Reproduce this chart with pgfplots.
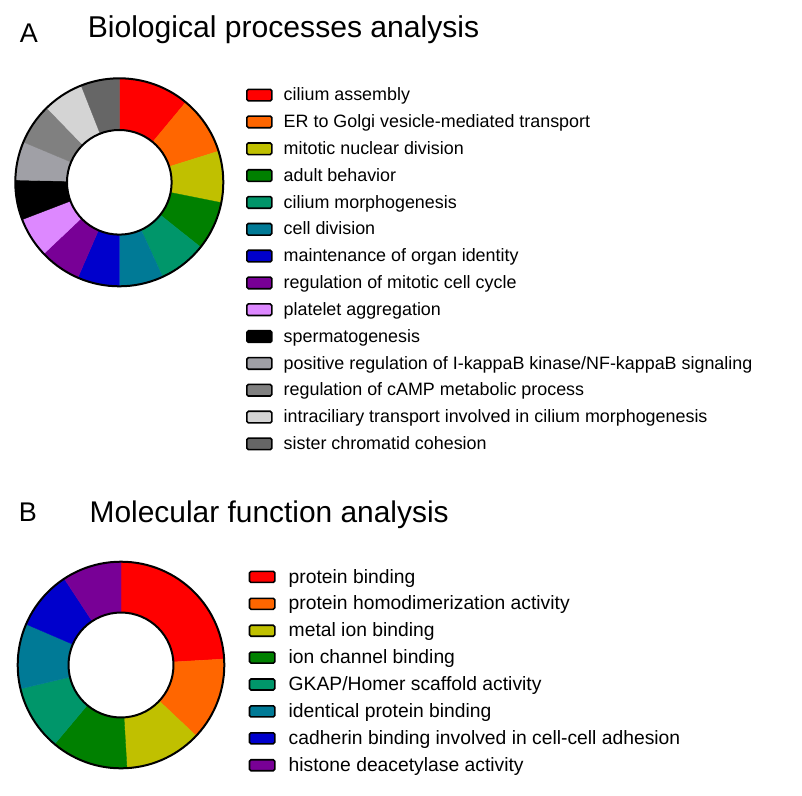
\documentclass[border=0pt]{standalone}
\usepackage{pgfplots}
\pgfplotsset{compat=1.18}
\usepackage{fontspec}
\setmainfont{Liberation Sans}

\definecolor{cRed}{HTML}{FF0000}
\definecolor{cOrange}{HTML}{FF6600}
\definecolor{cOlive}{HTML}{C0C000}
\definecolor{cGreen}{HTML}{008000}
\definecolor{cSea}{HTML}{00966A}
\definecolor{cPetrol}{HTML}{007A96}
\definecolor{cBlue}{HTML}{0000CC}
\definecolor{cPurple}{HTML}{780096}
\definecolor{cPink}{HTML}{DD88FF}
\definecolor{cBlack}{HTML}{000000}
\definecolor{cGrayA}{HTML}{A0A0A6}
\definecolor{cGrayB}{HTML}{808080}
\definecolor{cGrayC}{HTML}{D4D4D4}
\definecolor{cGrayD}{HTML}{666666}

% one donut segment: colour, start angle, end angle (degrees, math orientation)
\newcommand{\seg}[3]{\addplot[fill=#1, draw=#1, line width=0.4pt, domain=#2:#3, samples=40] ({cos(x)},{sin(x)}) -- (axis cs:0,0) -- cycle;}

\newcommand{\legA}[3]{%
  \pgfmathsetmacro\yc{95.1+26.83*#1}%
  \draw[fill=#2, line width=1.6bp, rounded corners=1.5bp] (246.9bp,-\yc bp+5.8bp) rectangle (271.8bp,-\yc bp-5.8bp);
  \node[anchor=base west, inner sep=0, font=\fontsize{17.9bp}{20bp}\selectfont] at (283.5bp,-\yc bp-5.7bp) {#3};}
\newcommand{\legB}[3]{%
  \pgfmathsetmacro\yc{576.9+26.9*#1}%
  \draw[fill=#2, line width=1.6bp, rounded corners=1.5bp] (249.5bp,-\yc bp+5.5bp) rectangle (274.8bp,-\yc bp-5.5bp);
  \node[anchor=base west, inner sep=0, font=\fontsize{19.3bp}{22bp}\selectfont] at (288.5bp,-\yc bp-6.1bp) {#3};}

\begin{document}
\begin{tikzpicture}
\path[use as bounding box] (0bp,0bp) rectangle (802bp,-796bp);

% ---------- A: Biological processes (segment sizes in degrees, clockwise from top)
% 39.7, 32.9, 28.7, 27.3, 26.8, 24.6, 23.5, 23.1, 22.4, 22.3, 21.5, 23.0, 22.7, 21.5
\begin{axis}[at={(119.3bp,-182.3bp)}, anchor=center, width=208bp, height=208bp,
  scale only axis, hide axis, xmin=-1, xmax=1, ymin=-1, ymax=1, clip=false]
\seg{cRed}{50.3}{90}
\seg{cOrange}{17.4}{50.3}
\seg{cOlive}{-11.3}{17.4}
\seg{cGreen}{-38.6}{-11.3}
\seg{cSea}{-65.4}{-38.6}
\seg{cPetrol}{-90}{-65.4}
\seg{cBlue}{-113.5}{-90}
\seg{cPurple}{-136.6}{-113.5}
\seg{cPink}{-159}{-136.6}
\seg{cBlack}{-181.3}{-159}
\seg{cGrayA}{-202.8}{-181.3}
\seg{cGrayB}{-225.8}{-202.8}
\seg{cGrayC}{-248.5}{-225.8}
\seg{cGrayD}{-270}{-248.5}
\draw[line width=2bp] (axis cs:0,0) circle[radius=1];
\draw[line width=2bp, fill=white] (axis cs:0,0) circle[radius=0.503];
\end{axis}

% ---------- B: Molecular function (shares of 108: 26,14,13,13,11,11,10,10)
\begin{axis}[at={(121bp,-665bp)}, anchor=center, width=206.6bp, height=206.6bp,
  scale only axis, hide axis, xmin=-1, xmax=1, ymin=-1, ymax=1, clip=false]
\seg{cRed}{3.3}{90}
\seg{cOrange}{-43.3}{3.3}
\seg{cOlive}{-86.7}{-43.3}
\seg{cGreen}{-130}{-86.7}
\seg{cSea}{-166.7}{-130}
\seg{cPetrol}{-203.3}{-166.7}
\seg{cBlue}{-236.7}{-203.3}
\seg{cPurple}{-270}{-236.7}
\draw[line width=2bp] (axis cs:0,0) circle[radius=1];
\draw[line width=2bp, fill=white] (axis cs:0,0) circle[radius=0.508];
\end{axis}

% titles
\node[anchor=base west, inner sep=0, font=\fontsize{27bp}{30bp}\selectfont] at (19.6bp,-42.5bp) {A};
\node[anchor=base west, inner sep=0, font=\fontsize{30.1bp}{34bp}\selectfont] at (87.6bp,-37bp) {Biological processes analysis};
\node[anchor=base west, inner sep=0, font=\fontsize{27bp}{30bp}\selectfont] at (18.6bp,-521.5bp) {B};
\node[anchor=base west, inner sep=0, font=\fontsize{29.9bp}{34bp}\selectfont] at (89.5bp,-522bp) {Molecular function analysis};

% legends
\legA{0}{cRed}{cilium assembly}
\legA{1}{cOrange}{ER to Golgi vesicle-mediated transport}
\legA{2}{cOlive}{mitotic nuclear division}
\legA{3}{cGreen}{adult behavior}
\legA{4}{cSea}{cilium morphogenesis}
\legA{5}{cPetrol}{cell division}
\legA{6}{cBlue}{maintenance of organ identity}
\legA{7}{cPurple}{regulation of mitotic cell cycle}
\legA{8}{cPink}{platelet aggregation}
\legA{9}{cBlack}{spermatogenesis}
\legA{10}{cGrayA}{positive regulation of I-kappaB kinase/NF-kappaB signaling}
\legA{11}{cGrayB}{regulation of cAMP metabolic process}
\legA{12}{cGrayC}{intraciliary transport involved in cilium morphogenesis}
\legA{13}{cGrayD}{sister chromatid cohesion}

\legB{0}{cRed}{protein binding}
\legB{1}{cOrange}{protein homodimerization activity}
\legB{2}{cOlive}{metal ion binding}
\legB{3}{cGreen}{ion channel binding}
\legB{4}{cSea}{GKAP/Homer scaffold activity}
\legB{5}{cPetrol}{identical protein binding}
\legB{6}{cBlue}{cadherin binding involved in cell-cell adhesion}
\legB{7}{cPurple}{histone deacetylase activity}
\end{tikzpicture}
\end{document}
